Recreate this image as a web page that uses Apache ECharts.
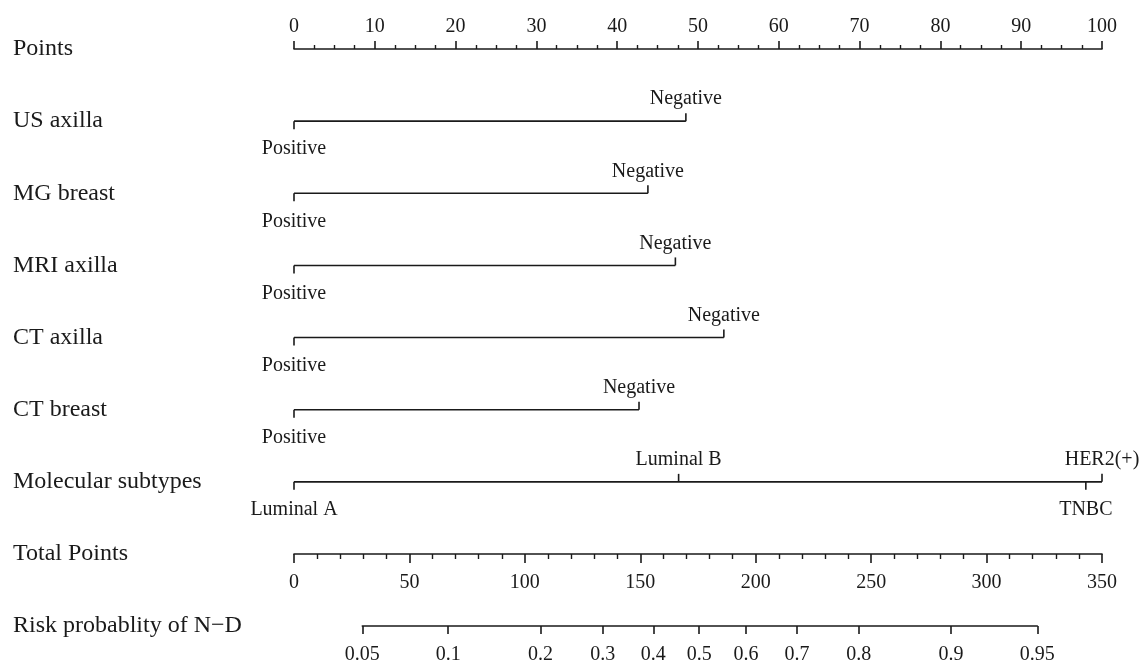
<!DOCTYPE html>
<html>
<head>
<meta charset="utf-8">
<script src="https://cdn.jsdelivr.net/npm/echarts@6/dist/echarts.min.js"></script>
<style>
  html, body { margin: 0; padding: 0; background: #fff; }
  #chart { width: 1141px; height: 662px; }
</style>
</head>
<body>
<div id="chart"></div>
<script>
// row names, top to bottom
const rowNames = ['Points', 'US axilla', 'MG breast', 'MRI axilla', 'CT axilla', 'CT breast',
  'Molecular subtypes', 'Total Points', 'Risk probablity of N−D'];

// points for each level of each predictor
const usAxillaLevels = ['Positive', 'Negative'];
const usAxillaPoints = [0, 48.5];
const mgBreastLevels = ['Positive', 'Negative'];
const mgBreastPoints = [0, 43.8];
const mriAxillaLevels = ['Positive', 'Negative'];
const mriAxillaPoints = [0, 47.2];
const ctAxillaLevels = ['Positive', 'Negative'];
const ctAxillaPoints = [0, 53.2];
const ctBreastLevels = ['Positive', 'Negative'];
const ctBreastPoints = [0, 42.7];
const subtypeLevels = ['Luminal A', 'Luminal B', 'TNBC', 'HER2(+)'];
const subtypePoints = [0, 47.6, 98.0, 100];

// risk scale: probability labels and where they sit on the total points scale
const riskLabels = ['0.05', '0.1', '0.2', '0.3', '0.4', '0.5', '0.6', '0.7', '0.8', '0.9', '0.95'];
const riskTotals = [29.6, 66.8, 106.8, 133.7, 155.6, 175.5, 195.8, 217.8, 244.6, 284.5, 321.9];

const predictors = [
  [usAxillaLevels, usAxillaPoints],
  [mgBreastLevels, mgBreastPoints],
  [mriAxillaLevels, mriAxillaPoints],
  [ctAxillaLevels, ctAxillaPoints],
  [ctBreastLevels, ctBreastPoints],
  [subtypeLevels, subtypePoints]
];

const ink = '#1a1a1a';
const font = 'Liberation Serif';

let myChart = echarts.init(document.getElementById('chart'));

let series = [];
let tickData = [];
let tickNames = [];
predictors.forEach(function (p, k) {
  let row = k + 1;
  let pts = p[1];
  series.push({
    type: 'line',
    xAxisIndex: 0,
    yAxisIndex: 0,
    symbol: 'none',
    silent: true,
    lineStyle: { color: ink, width: 1.6 },
    data: [[Math.min(...pts), row], [Math.max(...pts), row]]
  });
  // labels alternate below / above along the line
  p[0].forEach(function (name, i) {
    tickData.push([pts[i], row, i % 2 === 0 ? 1 : -1]);
    tickNames.push(name);
  });
});

series.push({
  type: 'custom',
  xAxisIndex: 0,
  yAxisIndex: 0,
  silent: true,
  data: tickData,
  renderItem: function (params, api) {
    let c = api.coord([api.value(0), api.value(1)]);
    let side = api.value(2);
    return {
      type: 'group',
      children: [
        {
          type: 'line',
          shape: { x1: c[0], y1: c[1], x2: c[0], y2: c[1] + side * 8 },
          style: { stroke: ink, lineWidth: 1.6 }
        },
        {
          type: 'text',
          style: {
            text: tickNames[params.dataIndex],
            x: c[0],
            y: side > 0 ? c[1] + 28 : c[1] - 22,
            align: 'center',
            verticalAlign: 'middle',
            fontSize: 20,
            fontFamily: font,
            fill: ink
          }
        }
      ]
    };
  }
});

const axisLabelStyle = { color: ink, fontSize: 20, fontFamily: font };

let options = {
  animation: false,
  backgroundColor: '#fff',
  grid: [
    { left: 294, right: 39, top: 49, bottom: 108, outerBoundsMode: 'none' },
    { left: 362.3, right: 103.7, top: 600, height: 26, outerBoundsMode: 'none' }
  ],
  xAxis: [
    {
      // Points
      type: 'value', gridIndex: 0, position: 'top',
      min: 0, max: 100, interval: 10,
      axisLine: { show: true, lineStyle: { color: ink, width: 1.6 } },
      axisTick: { show: true, length: 8, lineStyle: { color: ink, width: 1.6 } },
      minorTick: { show: true, splitNumber: 4, length: 4, lineStyle: { color: ink, width: 1.4 } },
      axisLabel: Object.assign({ margin: 12 }, axisLabelStyle),
      splitLine: { show: false }
    },
    {
      // Total Points
      type: 'value', gridIndex: 0, position: 'bottom',
      min: 0, max: 350, interval: 50,
      axisLine: { show: true, lineStyle: { color: ink, width: 1.6 } },
      axisTick: { show: true, length: 9, lineStyle: { color: ink, width: 1.6 } },
      minorTick: { show: true, splitNumber: 5, length: 5, lineStyle: { color: ink, width: 1.4 } },
      axisLabel: Object.assign({ margin: 19 }, axisLabelStyle),
      splitLine: { show: false }
    },
    {
      // Risk probability
      type: 'value', gridIndex: 1, position: 'bottom',
      min: riskTotals[0], max: riskTotals[riskTotals.length - 1],
      axisLine: { show: true, lineStyle: { color: ink, width: 1.6 } },
      axisTick: { show: true, length: 8, customValues: riskTotals, lineStyle: { color: ink, width: 1.6 } },
      axisLabel: Object.assign({
        margin: 19,
        customValues: riskTotals,
        formatter: function (v) {
          let best = 0;
          for (let i = 1; i < riskTotals.length; ++i) {
            if (Math.abs(riskTotals[i] - v) < Math.abs(riskTotals[best] - v)) best = i;
          }
          return riskLabels[best];
        }
      }, axisLabelStyle),
      splitLine: { show: false }
    }
  ],
  yAxis: [
    {
      type: 'value', gridIndex: 0, inverse: true,
      min: 0, max: 7, interval: 1,
      axisLine: { show: false },
      axisTick: { show: false },
      splitLine: { show: false },
      axisLabel: {
        margin: 281, align: 'left', color: ink, fontSize: 24, fontFamily: font,
        padding: [5, 0, 0, 0],
        formatter: function (v) { return rowNames[v]; }
      }
    },
    {
      type: 'value', gridIndex: 1,
      min: 0, max: 1, interval: 1,
      axisLine: { show: false },
      axisTick: { show: false },
      splitLine: { show: false },
      axisLabel: {
        margin: 349.3, align: 'left', color: ink, fontSize: 24, fontFamily: font,
        padding: [4, 0, 0, 0],
        formatter: function (v) { return v === 0 ? rowNames[8] : ''; }
      }
    }
  ],
  series: series
};

myChart.setOption(options);
</script>
</body>
</html>
